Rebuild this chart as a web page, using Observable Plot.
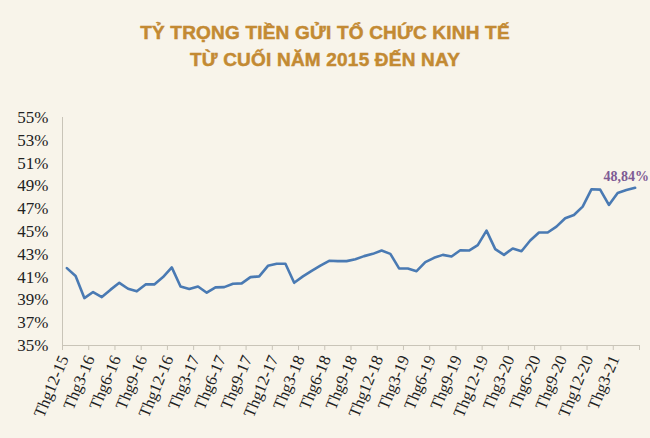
<!DOCTYPE html>
<html><head><meta charset="utf-8">
<script src="https://cdn.jsdelivr.net/npm/d3@7"></script>
<script src="https://cdn.jsdelivr.net/npm/@observablehq/plot@0.6"></script>
<style>
html,body{margin:0;padding:0;background:#f8f4ea;}
#title{height:80px;box-sizing:border-box;padding-top:19px;text-align:center;color:#c38a33;font-family:"Liberation Sans",Arial,sans-serif;font-weight:bold;font-size:19px;line-height:27px;letter-spacing:0.2px;-webkit-text-stroke:0.5px #c38a33;}
#chart svg{display:block;}
</style></head><body>
<div id="title"><div>TỶ TRỌNG TIỀN GỬI TỔ CHỨC KINH TẾ</div><div>TỪ CUỐI NĂM 2015 ĐẾN NAY</div></div>
<div id="chart"></div>
<script>
const tickLabels = ["Thg12-15","Thg3-16","Thg6-16","Thg9-16","Thg12-16","Thg3-17","Thg6-17","Thg9-17","Thg12-17","Thg3-18","Thg6-18","Thg9-18","Thg12-18","Thg3-19","Thg6-19","Thg9-19","Thg12-19","Thg3-20","Thg6-20","Thg9-20","Thg12-20","Thg3-21"];
// monthly share (%) from Dec-2015 to May-2021
const values = [41.79,41.10,39.16,39.69,39.25,39.90,40.50,39.98,39.75,40.36,40.36,41.00,41.85,40.18,39.95,40.18,39.63,40.10,40.12,40.42,40.45,41.00,41.06,41.99,42.17,42.17,40.50,41.06,41.55,42.00,42.43,42.40,42.40,42.57,42.84,43.04,43.33,43.04,41.76,41.76,41.52,42.31,42.69,42.95,42.81,43.36,43.33,43.80,45.08,43.45,42.95,43.51,43.27,44.21,44.91,44.91,45.43,46.16,46.45,47.18,48.70,48.67,47.33,48.38,48.64,48.84];
const yTicks = [35,37,39,41,43,45,47,49,51,53,55];
const endLabel = "48,84%";

const data = values.map((v, i) => ({i, v}));
const labelIdx = tickLabels.map((_, k) => k * 3);
const boundaries = d3.range(0, values.length + 1, 3).map(b => b - 0.5);
const axisColor = "#c9c4b8";

const chart = Plot.plot({
  width: 650, height: 358,
  marginTop: 37, marginBottom: 93, marginLeft: 62, marginRight: 11,
  style: {background: "transparent", fontFamily: "'Liberation Serif', 'Times New Roman', serif", color: "#222"},
  x: {type: "linear", domain: [-0.5, values.length - 0.5]},
  y: {domain: [35, 55]},
  marks: [
    Plot.axisY({ticks: yTicks, tickFormat: d => d + "%", tickSize: 0, tickPadding: 14, fontSize: 17, label: null}),
    Plot.axisX({ticks: boundaries, tickSize: 5, tickFormat: () => "", stroke: axisColor, label: null}),
    Plot.text(labelIdx, {x: d => d, frameAnchor: "bottom", text: d => tickLabels[d / 3], rotate: -67, textAnchor: "end", dy: 13, dx: 2, fontSize: 16.5, fill: "#222"}),
    Plot.ruleY([35], {stroke: axisColor}),
    Plot.ruleX([-0.5], {stroke: axisColor}),
    Plot.line(data, {x: "i", y: "v", stroke: "#4a7ab3", strokeWidth: 2.6, strokeLinejoin: "round"}),
    Plot.text([data[data.length - 1]], {x: "i", y: "v", text: () => endLabel, dy: -11, dx: -9, fill: "#7e5b94", fontWeight: "bold", fontSize: 14})
  ]
});
document.getElementById("chart").appendChild(chart);
</script>
</body></html>
